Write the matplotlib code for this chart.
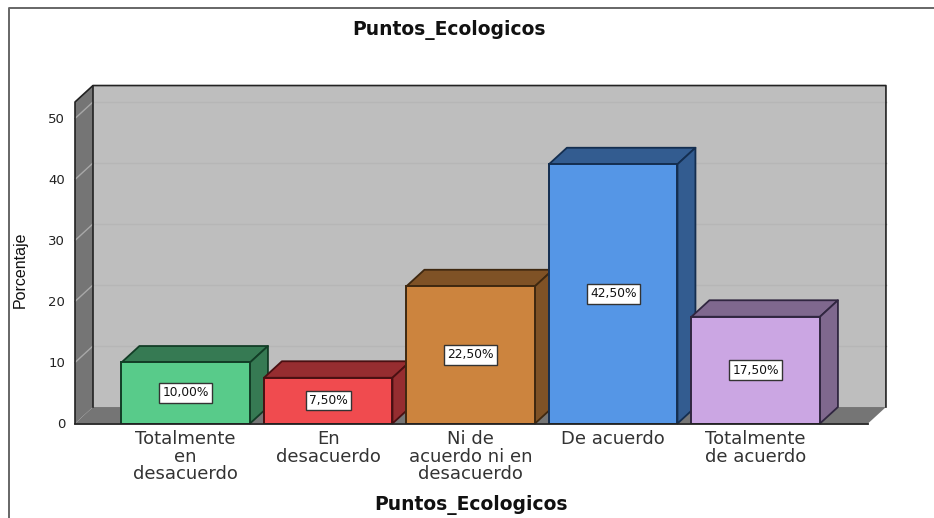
import matplotlib
matplotlib.use("Agg")
import matplotlib.pyplot as plt
from matplotlib.patches import Polygon

categorias = ["Totalmente\nen\ndesacuerdo", "En\ndesacuerdo", "Ni de\nacuerdo ni en\ndesacuerdo", "De acuerdo", "Totalmente\nde acuerdo"]
porcentajes = [10.0, 7.5, 22.5, 42.5, 17.5]
etiquetas = ["10,00%", "7,50%", "22,50%", "42,50%", "17,50%"]
y_ticks = [0, 10, 20, 30, 40, 50]

frente = ["#58cb8a", "#f04b4f", "#cc843e", "#5596e6", "#cba6e3"]
tapa = ["#367a53", "#962d30", "#7f5226", "#335c90", "#7f688e"]
borde = ["#123d26", "#4a1012", "#3f2810", "#142e50", "#302640"]

plt.rcParams["font.family"] = ["DejaVu Sans"]

W, H = 934, 518
fig = plt.figure(figsize=(W / 100, H / 100), dpi=100)

# fondo con el marco de la ventana
bg = fig.add_axes([0, 0, 1, 1])
bg.set_xlim(0, W)
bg.set_ylim(H, 0)
bg.axis("off")
bg.plot([8.5, 8.5, 934], [H, 8, 8], color="#666666", lw=1.4)

# plano frontal del grafico
ax = fig.add_axes([75 / W, 1 - 423.5 / H, 793 / W, 321.5 / H])
ax.set_xlim(-0.777, 4.788)
ax.set_ylim(0, 52.7)
ax.patch.set_visible(False)
for s in ax.spines.values():
    s.set_visible(False)

dx, dy = 0.126, 2.7
x0, x1 = ax.get_xlim()
y1 = ax.get_ylim()[1]
ln = "#222222"

def poly(pts, fc, ec="none", lw=1.2, z=1):
    ax.add_patch(Polygon(pts, closed=True, fc=fc, ec=ec, lw=lw, zorder=z, clip_on=False, joinstyle="round"))

# paredes y suelo
poly([(x0 + dx, dy), (x1 + dx, dy), (x1 + dx, y1 + dy), (x0 + dx, y1 + dy)], "#bebebe")
poly([(x0, 0), (x0 + dx, dy), (x0 + dx, y1 + dy), (x0, y1)], "#757575")
poly([(x0, 0), (x1, 0), (x1 + dx, dy), (x0 + dx, dy)], "#757575")

for t in y_ticks[1:]:
    ax.plot([x0 + dx, x1 + dx], [t + dy, t + dy], color="#b6b6b6", lw=1, zorder=1.5, clip_on=False)
    ax.plot([x0, x0 + dx], [t, t + dy], color="#a8a8a8", lw=1, zorder=1.5, clip_on=False)

# contorno de las paredes
ax.plot([x0, x0, x0 + dx, x1 + dx, x1 + dx], [0, y1, y1 + dy, y1 + dy, dy], color=ln, lw=1.2, zorder=1.6, clip_on=False)
ax.plot([x0 + dx, x0 + dx], [dy, y1 + dy], color=ln, lw=1.2, zorder=1.6, clip_on=False)

# barras
ancho = 0.902
for i, v in enumerate(porcentajes):
    a, b = i - ancho / 2, i + ancho / 2
    z = 2 + i * 0.1
    poly([(a, v), (b, v), (b + dx, v + dy), (a + dx, v + dy)], tapa[i], borde[i], 1.3, z)
    poly([(b, 0), (b + dx, dy), (b + dx, v + dy), (b, v)], tapa[i], borde[i], 1.3, z)
    ax.bar(i, v, width=ancho, color=frente[i], edgecolor=borde[i], linewidth=1.4, zorder=z + 0.01)
    ax.text(i, v / 2, etiquetas[i], ha="center", va="center", fontsize=8.8, color="#111111", zorder=5,
            bbox=dict(boxstyle="square,pad=0.26", fc="white", ec="#333333", lw=1))

ax.plot([x0, x1], [0, 0], color=ln, lw=1.3, zorder=4, clip_on=False)

ax.set_yticks(y_ticks)
ax.tick_params(axis="y", length=0, pad=7, labelsize=9.5, labelcolor="#222222")
ax.set_xticks(range(len(categorias)))
ax.set_xticklabels(categorias, fontsize=13, color="#333333", linespacing=0.95)
ax.tick_params(axis="x", length=0, pad=5)

fig.text(449 / W, 1 - 30 / H, "Puntos_Ecologicos", ha="center", va="center", fontsize=13.5, fontweight="bold", color="#111111")
fig.text(471 / W, 1 - 505 / H, "Puntos_Ecologicos", ha="center", va="center", fontsize=13.5, fontweight="bold", color="#111111")
fig.text(20 / W, 1 - 270 / H, "Porcentaje", rotation=90, ha="center", va="center", fontsize=11.5, color="#111111",
         family=["Liberation Sans"])

fig.savefig("out.png", dpi=100)
